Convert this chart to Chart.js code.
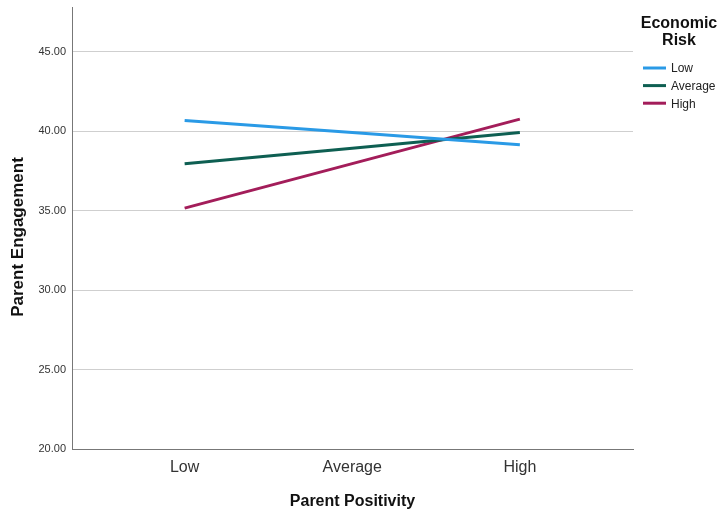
<!DOCTYPE html>
<html><head><meta charset="utf-8">
<script src="https://cdn.jsdelivr.net/npm/chart.js@4"></script>
<style>html,body{margin:0;padding:0;background:#fff}#wrap{width:724px;height:515px}</style>
</head><body><div id="wrap"><canvas id="c" width="724" height="515"></canvas></div>
<script>
const categories = ['Low', 'Average', 'High'];
const seriesNames = ['Low', 'Average', 'High'];
const lowRisk = [40.66, 39.90, 39.13];
const averageRisk = [37.94, 38.92, 39.91];
const highRisk = [35.15, 37.95, 40.75];
const yTicks = [20, 25, 30, 35, 40, 45];
const legendTitle = ['Economic', 'Risk'];
const xTitle = 'Parent Positivity';
const yTitle = 'Parent Engagement';
const colors = ['#2a9ae6', '#0e5f52', '#a31d5a'];

const FONT = "'Liberation Sans', Arial, sans-serif";
const seriesValues = [lowRisk, averageRisk, highRisk];

const datasets = seriesValues.map((vals, i) => ({
  label: seriesNames[i],
  data: vals.map((v, j) => ({x: j, y: v})),
  borderColor: colors[i],
  backgroundColor: colors[i],
  borderWidth: 3,
  pointRadius: 0,
  tension: 0,
  fill: false
}));

const overlay = {
  id: 'overlay',
  afterDraw(chart) {
    const ctx = chart.ctx;
    ctx.save();
    ctx.fillStyle = '#111';
    ctx.font = 'bold 17px ' + FONT;
    ctx.textAlign = 'center';
    ctx.textBaseline = 'middle';
    ctx.translate(18, 237);
    ctx.rotate(-Math.PI / 2);
    ctx.fillText(yTitle, 0, 0);
    ctx.restore();

    ctx.save();
    ctx.fillStyle = '#111';
    ctx.font = 'bold 16px ' + FONT;
    ctx.textAlign = 'center';
    ctx.textBaseline = 'middle';
    legendTitle.forEach((t, i) => ctx.fillText(t, 679, 24 + i * 17));
    ctx.font = '12px ' + FONT;
    ctx.textAlign = 'left';
    chart.data.datasets.forEach((ds, i) => {
      const y = 68 + i * 17.6;
      ctx.strokeStyle = ds.borderColor;
      ctx.lineWidth = 3;
      ctx.beginPath();
      ctx.moveTo(643, y);
      ctx.lineTo(666, y);
      ctx.stroke();
      ctx.fillStyle = '#222';
      ctx.fillText(ds.label, 671, y + 1);
    });
    ctx.restore();
  }
};

new Chart(document.getElementById('c'), {
  type: 'line',
  data: {datasets},
  options: {
    responsive: false,
    devicePixelRatio: 1,
    animation: false,
    layout: {padding: {left: 0, top: 7, right: 91, bottom: 0}},
    plugins: {legend: {display: false}, tooltip: {enabled: false}},
    scales: {
      x: {
        type: 'linear',
        min: -0.672,
        max: 2.675,
        afterBuildTicks: s => { s.ticks = categories.map((_, i) => ({value: i})); },
        afterFit: s => { s.height = 66; s.paddingLeft = 0; s.paddingRight = 0; },
        ticks: {
          autoSkip: false, maxRotation: 0,
          callback: v => categories[v],
          font: {family: FONT, size: 16},
          color: '#333',
          padding: 9
        },
        grid: {display: false, drawTicks: false},
        border: {display: true, color: '#777', width: 1},
        title: {
          display: true, text: xTitle,
          font: {family: FONT, size: 16, weight: 'bold'},
          color: '#111',
          padding: {top: 0, bottom: 4}
        }
      },
      y: {
        min: 20,
        max: 47.8,
        afterBuildTicks: s => { s.ticks = yTicks.map(v => ({value: v})); },
        afterFit: s => { s.width = 72; s.paddingTop = 0; s.paddingBottom = 0; },
        ticks: {
          callback: v => Number(v).toFixed(2),
          font: {family: FONT, size: 11},
          color: '#333',
          padding: 6
        },
        grid: {color: '#cfcfcf', drawTicks: false},
        border: {display: true, color: '#777', width: 1}
      }
    }
  },
  plugins: [overlay]
});
</script>
</body></html>
